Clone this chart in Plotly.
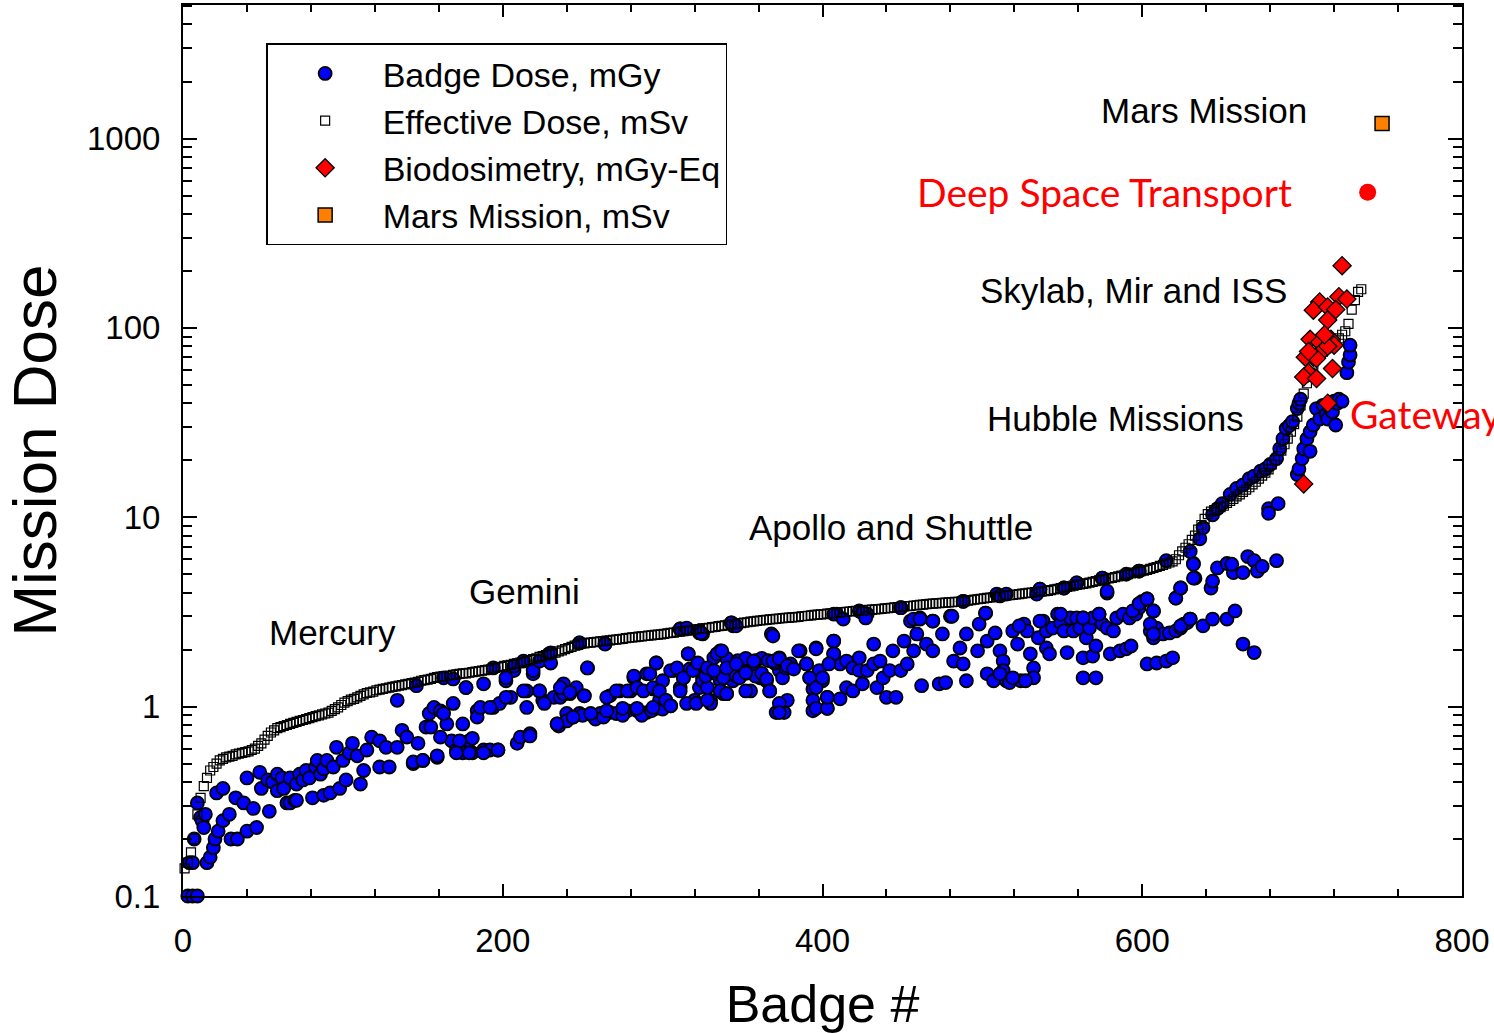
import plotly.graph_objects as go

# ---------------- data ----------------
# Effective dose (mSv), sorted, one value every second badge starting at badge 1
eff_dose = [
    0.14, 0.15, 0.17, 0.2, 0.27, 0.33, 0.38, 0.42, 0.46, 0.48,
    0.50, 0.52, 0.53, 0.54, 0.545, 0.55, 0.56, 0.565, 0.57, 0.575,
    0.58, 0.59, 0.60, 0.62, 0.64, 0.67, 0.70, 0.73, 0.75, 0.77,
    0.78, 0.79, 0.80, 0.81, 0.82, 0.83, 0.84, 0.85, 0.86, 0.87,
    0.88, 0.89, 0.90, 0.91, 0.92, 0.93, 0.95, 0.97, 0.99, 1.02,
    1.05, 1.07, 1.09, 1.10, 1.12, 1.14, 1.16, 1.18, 1.19, 1.20,
    1.22, 1.23, 1.24, 1.25, 1.26, 1.27, 1.28, 1.29, 1.30, 1.31,
    1.32, 1.33, 1.34, 1.35, 1.37, 1.38, 1.39, 1.40, 1.42, 1.43,
    1.44, 1.45, 1.45, 1.46, 1.47, 1.48, 1.49, 1.50, 1.50, 1.51,
    1.52, 1.53, 1.54, 1.55, 1.56, 1.57, 1.58, 1.60, 1.61, 1.62,
    1.64, 1.65, 1.66, 1.68, 1.69, 1.71, 1.72, 1.74, 1.76, 1.78,
    1.80, 1.83, 1.85, 1.87, 1.89, 1.91, 1.93, 1.96, 1.98, 2.01,
    2.04, 2.07, 2.10, 2.13, 2.15, 2.16, 2.17, 2.18, 2.19, 2.20,
    2.21, 2.22, 2.23, 2.24, 2.25, 2.26, 2.27, 2.28, 2.30, 2.31,
    2.32, 2.33, 2.34, 2.35, 2.36, 2.37, 2.38, 2.39, 2.40, 2.41,
    2.42, 2.44, 2.45, 2.46, 2.48, 2.49, 2.50, 2.52, 2.53, 2.54,
    2.56, 2.57, 2.59, 2.60, 2.61, 2.63, 2.64, 2.66, 2.67, 2.69,
    2.70, 2.72, 2.73, 2.75, 2.76, 2.78, 2.79, 2.81, 2.82, 2.84,
    2.85, 2.86, 2.87, 2.89, 2.90, 2.91, 2.92, 2.93, 2.94, 2.95,
    2.96, 2.97, 2.98, 3.00, 3.01, 3.02, 3.03, 3.05, 3.06, 3.07,
    3.08, 3.10, 3.11, 3.12, 3.13, 3.14, 3.16, 3.17, 3.18, 3.19,
    3.20, 3.21, 3.22, 3.23, 3.24, 3.25, 3.26, 3.27, 3.28, 3.30,
    3.31, 3.32, 3.34, 3.35, 3.36, 3.38, 3.39, 3.40, 3.42, 3.43,
    3.45, 3.46, 3.48, 3.49, 3.50, 3.51, 3.52, 3.53, 3.54, 3.55,
    3.56, 3.57, 3.58, 3.60, 3.61, 3.63, 3.65, 3.67, 3.69, 3.71,
    3.73, 3.75, 3.77, 3.79, 3.81, 3.82, 3.84, 3.86, 3.88, 3.89,
    3.91, 3.93, 3.95, 3.97, 3.99, 4.00, 4.02, 4.04, 4.05, 4.07,
    4.09, 4.12, 4.16, 4.19, 4.22, 4.26, 4.29, 4.32, 4.36, 4.39,
    4.42, 4.45, 4.48, 4.52, 4.56, 4.60, 4.64, 4.68, 4.71, 4.75,
    4.79, 4.83, 4.87, 4.92, 4.96, 5.01, 5.05, 5.10, 5.14, 5.19,
    5.22, 5.28, 5.34, 5.40, 5.46, 5.53, 5.61, 5.69, 5.77, 5.85,
    6.0, 6.3, 6.6, 6.9, 7.2, 7.6, 8.0, 8.6, 9.1, 9.8,
    10.4, 10.7, 10.9, 11.1, 11.3, 11.5, 11.9, 12.2, 12.5, 12.9,
    13.2, 13.6, 14.0, 14.4, 14.9, 15.4, 16.0, 16.6, 17.2, 17.9,
    19.0, 20.0, 21.0, 22.5, 24.3, 26.0, 28.3, 31.0, 34.0, 39.0,
    45.0, 51.0, 58.0, 64.0, 70.0, 73.0, 75.0, 78.0, 81.0, 84.0,
    86.0, 88.0, 92.0, 96.0, 105, 125, 140, 155, 160,
]
eff_badge = [1 + 2 * i for i in range(len(eff_dose))]

# Badge dose (mGy) – badge numbers and values
badge_x = [
    3, 6, 9, 4, 6, 7, 9, 11, 12, 13, 14, 15, 17, 19, 20, 21, 22, 25, 25, 29,
    30, 33, 34, 38, 40, 40, 44, 46, 48, 49,
    53, 54, 56, 59, 59, 62, 63, 65, 67, 67, 70, 71, 71, 73, 75, 77, 79, 81, 83, 84,
    86, 88, 88, 90, 92, 94, 96, 98, 100, 102, 104, 106, 109, 111, 113, 115, 118, 123, 123, 127,
    129,
    134, 134, 137, 140, 144, 146, 147, 150, 152, 154, 157, 159, 161, 163, 165, 169, 168, 171, 175, 175,
    177, 179, 181, 184, 188, 188, 192, 194, 197, 198, 202, 205, 207, 209, 211, 215, 215, 217, 219, 223,
    225, 229, 232, 234, 236, 238, 240, 242, 246, 248,
    163, 169, 177, 194, 202, 207, 213, 219, 223, 229, 230, 248, 155, 161, 173, 181, 184, 186, 192, 202,
    213, 226, 238, 242, 144, 150, 159, 171, 179, 188, 197, 217,
    251, 253, 264, 235, 240, 244, 250, 256, 261, 267, 271, 278, 284, 290, 296, 305, 267, 273, 280, 282,
    290, 296, 294, 300, 298, 302, 307, 311, 313, 316, 317, 320, 323, 325, 330, 330, 336, 336, 340, 342,
    344, 344, 311, 323, 343, 258, 263, 275, 287, 293, 300,
    325, 330, 332, 328, 325, 328, 338, 348, 350, 355, 357, 361, 365, 367, 368, 369, 373, 373, 371, 376,
    378, 375, 380, 386, 390, 392, 396, 394, 398, 400, 403, 403, 407, 407, 409, 335, 340, 347, 352, 358,
    362, 366, 370, 377, 327, 333, 338, 346, 352, 358, 362, 323,
    394, 411, 411, 415, 415, 419, 419, 423, 423, 425, 428, 428, 432, 432, 434, 436, 438, 440, 442, 444,
    446, 449, 451, 453, 455, 457, 459, 461, 462, 465, 469, 469, 473, 475, 477, 480, 482, 486, 488, 490,
    490, 497, 498, 502, 503, 503, 507, 508, 511, 513, 513, 515, 519, 522, 524, 526, 528, 530, 532, 532,
    534, 509, 488, 449, 423,
    535, 538, 540, 540, 542, 544, 547, 549, 551, 553, 555, 557, 559, 561, 563, 563, 565, 567, 569, 571,
    569, 573, 575, 578, 580, 582, 584, 586, 588, 590, 592, 593, 596, 598, 600, 603, 605, 607, 607, 609,
    603, 609, 613, 615, 617, 619, 621, 624, 626, 628, 630, 632, 633, 624, 621, 638, 644, 653, 658, 643,
    644, 647, 653, 657, 656, 663, 666, 670, 672, 675, 684, 663, 670, 563, 571, 517, 519, 511, 527, 536,
    551, 559, 575, 578, 598,
    636, 638, 644, 647, 650, 655, 659, 663, 667, 670, 674, 677, 680, 684, 686, 688, 690, 692, 694, 697,
    698, 699, 679, 685, 679, 697, 698, 700, 701, 703, 705, 705, 707, 709, 711, 713, 715, 716, 717, 719,
    720, 721, 722, 723, 725, 728, 729, 730, 730,
    407, 413, 425, 427, 449, 488, 511, 515, 536, 551, 559, 575, 590, 598, 615, 630, 578, 457, 461, 469,
    481, 502, 621, 624, 632, 632, 523, 536, 549, 563, 573, 594, 598, 603, 607, 605, 607, 624, 630, 230,
    248, 264, 311, 315, 324, 343, 346, 369, 253, 316, 334, 337, 385, 396, 407, 407, 282, 292, 296, 305,
    309, 313, 319, 322, 328, 332, 340, 346, 348, 352, 357, 365, 369, 373, 378, 382, 390, 392, 396, 400,
    404, 265, 271, 278, 284, 288, 294, 298, 302, 311, 315, 321, 328, 336, 340, 352, 367, 373, 373, 394,
    396, 403, 403, 234, 244, 255, 265, 275, 284, 294, 305, 223, 236, 242, 251,
]
badge_y = [
    0.1, 0.1, 0.1, 0.15, 0.15, 0.2, 0.31, 0.26, 0.25, 0.23, 0.27, 0.15, 0.16, 0.18, 0.2, 0.35, 0.22, 0.37, 0.25, 0.27,
    0.2, 0.33, 0.2, 0.31, 0.42, 0.22, 0.29, 0.23, 0.45, 0.37,
    0.41, 0.28, 0.40, 0.44, 0.36, 0.42, 0.37, 0.31, 0.42, 0.31, 0.32, 0.32, 0.39, 0.44, 0.41, 0.46, 0.42, 0.33, 0.48, 0.52,
    0.44, 0.47, 0.34, 0.52, 0.35, 0.48, 0.61, 0.37, 0.52, 0.41, 0.57, 0.64, 0.55, 0.39, 0.46, 0.59, 0.69, 0.48, 0.66, 0.61,
    0.48,
    1.08, 0.61, 0.75, 0.69, 0.50, 1.29, 0.64, 0.52, 0.78, 0.92, 0.99, 0.54, 0.95, 1.42, 0.81, 1.04, 0.66, 0.59, 0.81, 0.57,
    1.26, 0.66, 0.57, 0.95, 1.32, 0.59, 0.59, 0.99, 0.59, 1.04, 1.37, 1.12, 1.55, 0.64, 0.69, 0.99, 1.21, 0.72, 1.49, 1.21,
    1.08, 1.74, 1.12, 0.81, 1.12, 1.32, 0.92, 1.17, 1.26, 0.92,
    0.92, 1.40, 1.26, 1.60, 1.42, 1.64, 1.74, 1.55, 1.74, 1.90, 1.70, 2.17, 0.78, 0.69, 0.66, 0.68, 0.88, 0.99, 0.99, 1.12,
    1.21, 1.04, 1.17, 1.19, 0.51, 0.52, 0.55, 0.57, 0.57, 0.57, 0.59, 0.70,
    1.14, 1.60, 2.15, 0.79, 0.84, 0.88, 0.90, 0.90, 0.92, 0.93, 0.92, 0.95, 0.95, 0.93, 0.98, 1.01, 1.14, 1.21, 1.21, 1.42,
    1.49, 1.70, 1.24, 1.37, 1.08, 1.08, 1.55, 1.26, 1.42, 1.90, 1.58, 1.08, 1.26, 1.42, 1.60, 1.08, 1.97, 1.37, 1.17, 1.60,
    1.37, 2.67, 2.57, 2.45, 2.77, 0.86, 0.88, 0.90, 0.90, 0.95, 0.97,
    2.42, 1.04, 1.81, 1.55, 1.37, 1.26, 1.17, 1.68, 1.49, 1.21, 1.68, 1.42, 1.37, 1.21, 2.42, 1.74, 1.81, 1.55, 0.93, 0.93,
    1.08, 1.42, 1.68, 1.97, 1.68, 1.42, 2.04, 1.24, 1.55, 1.37, 0.98, 1.12, 2.22, 1.90, 3.08, 1.90, 1.80, 1.75, 1.80, 1.75,
    1.80, 1.75, 1.70, 1.60, 1.45, 1.50, 1.42, 1.45, 1.50, 1.45, 1.50, 2.51,
    0.95, 1.68, 1.10, 1.74, 1.26, 1.21, 1.60, 1.55, 1.81, 1.32, 3.08, 1.55, 1.68, 2.14, 1.26, 1.74, 1.42, 1.12, 1.55, 1.97,
    1.12, 1.55, 2.22, 1.68, 2.83, 1.97, 2.42, 2.94, 1.29, 2.14, 2.83, 1.97, 1.32, 2.42, 1.34, 3.00, 1.74, 2.04, 1.68, 2.42,
    1.37, 1.97, 2.73, 3.12, 2.22, 1.49, 1.37, 2.45, 1.97, 1.74, 1.55, 1.37, 2.51, 2.14, 1.37, 2.73, 2.51, 1.90, 1.60, 1.42,
    3.93, 3.93, 3.60, 3.33, 3.20,
    2.31, 2.83, 2.51, 2.04, 1.90, 2.60, 3.08, 2.77, 2.51, 1.93, 2.94, 2.51, 2.94, 2.60, 1.81, 2.94, 2.31, 2.60, 1.85, 2.09,
    2.94, 3.08, 2.73, 2.60, 1.90, 2.51, 2.94, 1.97, 3.08, 2.02, 2.94, 2.09, 3.08, 3.33, 3.60, 3.70, 2.51, 2.31, 3.20, 2.60,
    1.68, 1.70, 2.42, 1.74, 2.45, 1.81, 2.51, 2.60, 2.73, 2.77, 2.90, 5.70, 4.77, 4.23, 3.74, 2.67, 2.90, 2.90, 3.20, 4.23,
    4.60, 5.40, 5.70, 5.10, 5.65, 5.10, 6.20, 5.90, 5.20, 5.50, 5.90, 2.14, 1.93, 1.42, 1.42, 1.34, 1.42, 1.49, 1.37, 4.17,
    4.23, 4.50, 4.77, 3.98, 5.20,
    7.7, 8.8, 10.3, 11.1, 11.8, 13.2, 14.2, 14.8, 16.0, 16.5, 17.5, 18.0, 19.0, 20.4, 23.0, 26.0, 29.4, 30.5, 32.0, 37.5,
    40.0, 42.0, 11.1, 11.8, 10.5, 16.8, 18.0, 20.4, 23.0, 26.0, 22.3, 28.3, 30.7, 37.5, 33.0, 39.0, 35.0, 33.0, 38.0, 36.0,
    41.0, 30.7, 40.0, 42.0, 41.0, 58.0, 66.0, 72.0, 81.0,
    3.08, 2.90, 3.12, 2.94, 3.33, 3.60, 3.84, 3.93, 4.17, 4.23, 4.50, 4.77, 5.00, 5.20, 5.90, 6.60, 4.07, 2.90, 2.90, 2.83,
    3.00, 3.12, 3.74, 4.23, 5.65, 4.77, 2.67, 2.83, 3.08, 2.94, 3.08, 3.20, 3.50, 3.70, 3.20, 2.73, 2.42, 2.67, 2.90, 1.92,
    2.17, 2.14, 2.57, 2.60, 2.45, 2.77, 2.67, 2.36, 1.60, 1.90, 1.90, 1.97, 1.97, 2.02, 2.22, 1.90, 1.45, 1.49, 1.70, 1.55,
    1.60, 1.42, 1.55, 1.70, 1.60, 1.55, 1.60, 1.68, 1.42, 1.51, 1.74, 1.40, 1.74, 1.79, 1.64, 1.58, 1.68, 1.42, 1.26, 1.42,
    1.68, 1.12, 1.21, 1.21, 1.26, 1.21, 1.26, 1.21, 1.08, 1.21, 1.04, 1.04, 1.08, 1.21, 1.17, 1.21, 1.21, 1.04, 0.93, 1.08,
    0.98, 0.98, 1.12, 0.81, 0.88, 0.92, 0.95, 0.98, 0.98, 0.99, 1.01, 1.21, 1.26, 1.19, 1.14,
]

# Biodosimetry (mGy-Eq)
bio_x = [725, 711, 707, 716, 723, 728, 716, 705, 711, 718,
         720, 713, 707, 702, 709, 704, 701, 709, 719, 716,
         701, 721, 704, 716, 714]
bio_y = [213, 137, 124, 129, 146, 142, 110, 87, 84, 87,
         81, 76, 70, 70, 69, 58, 55, 54, 61, 40,
         15, 125, 75, 80, 92]

# Mars mission (mSv) and Deep Space Transport estimate
mars_x = [750]
mars_y = [1200]
dst_x = [741]
dst_y = [520]

# ---------------- figure ----------------
FONT = "Liberation Sans, Arial, sans-serif"
RED_FONT = "Lato, Noto Sans, sans-serif"

fig = go.Figure()

fig.add_trace(go.Scatter(
    x=badge_x, y=badge_y, mode="markers", name="Badge Dose, mGy",
    marker=dict(symbol="circle", size=13, color="#0000ff",
                line=dict(color="black", width=1.8)),
    cliponaxis=False,
))
fig.add_trace(go.Scatter(
    x=eff_badge, y=eff_dose, mode="markers", name="Effective Dose, mSv",
    marker=dict(symbol="square-open", size=9, color="black",
                line=dict(color="black", width=1.2)),
    cliponaxis=False,
))
fig.add_trace(go.Scatter(
    x=bio_x, y=bio_y, mode="markers", name="Biodosimetry, mGy-Eq",
    marker=dict(symbol="diamond", size=14, color="#ff0000",
                line=dict(color="black", width=1.3)),
    cliponaxis=False,
))
fig.add_trace(go.Scatter(
    x=mars_x, y=mars_y, mode="markers", name="Mars Mission, mSv",
    marker=dict(symbol="square", size=14, color="#ff8000",
                line=dict(color="black", width=1.5)),
    cliponaxis=False,
))
fig.add_trace(go.Scatter(
    x=dst_x, y=dst_y, mode="markers", showlegend=False,
    marker=dict(symbol="circle", size=17, color="#ff0000", line=dict(width=0)),
    cliponaxis=False,
))

minor_y = [k * 10.0 ** e for e in range(-1, 4) for k in range(2, 10)]

fig.update_layout(
    width=1494, height=1033,
    margin=dict(l=183, r=32, t=3, b=137),
    paper_bgcolor="white", plot_bgcolor="white",
    font=dict(family=FONT, size=33, color="black"),
    showlegend=True,
    legend=dict(
        x=0.065, y=0.957, xanchor="left", yanchor="top",
        bgcolor="white", bordercolor="black", borderwidth=1.5,
        font=dict(family=FONT, size=34, color="black"),
        itemwidth=105, tracegroupgap=0,
    ),
    xaxis=dict(
        range=[0, 800], dtick=200, tick0=0,
        showline=True, linecolor="black", linewidth=2, mirror="ticks",
        ticks="inside", ticklen=12, tickwidth=2, tickcolor="black",
        minor=dict(dtick=40, ticks="inside", ticklen=7, tickwidth=1.5, tickcolor="black"),
        showgrid=False, zeroline=False,
        tickfont=dict(family=FONT, size=33),
        ticklabelstandoff=14,
        title=dict(text="Badge #", font=dict(family=FONT, size=52), standoff=30),
    ),
    yaxis=dict(
        type="log", range=[-1, 3.705],
        tickmode="array", tickvals=[0.1, 1, 10, 100, 1000],
        ticktext=["0.1", "1", "10", "100", "1000"],
        showline=True, linecolor="black", linewidth=2, mirror="ticks",
        ticks="inside", ticklen=14, tickwidth=2, tickcolor="black",
        minor=dict(tickmode="array", tickvals=minor_y, ticks="inside",
                   ticklen=9, tickwidth=1.5, tickcolor="black"),
        showgrid=False, zeroline=False,
        tickfont=dict(family=FONT, size=33),
        ticklabelstandoff=14,
        title=dict(text="Mission Dose", font=dict(family=FONT, size=62), standoff=28),
    ),
)

ann_black = dict(showarrow=False, xanchor="left", yanchor="middle",
                 font=dict(family=FONT, size=35, color="black"))
ann_red = dict(showarrow=False, xanchor="left", yanchor="middle",
               font=dict(family=RED_FONT, size=39, color="#ff0000"))

labels = [
    ("Mercury", 52.5, 0.389, ann_black),
    ("Gemini", 177.6, 0.61, ann_black),
    ("Apollo and Shuttle", 352.8, 0.947, ann_black),
    ("Hubble Missions", 501.6, 1.52, ann_black),
    ("Skylab, Mir and ISS", 497.0, 2.195, ann_black),
    ("Mars Mission", 572.8, 3.147, ann_black),
    ("Deep Space Transport", 457.6, 2.72, ann_red),
    ("Gateway", 729.0, 1.547, ann_red),
]
for text, ax_, ay_, style in labels:
    fig.add_annotation(text=text, x=ax_, y=ay_, xref="x", yref="y", **style)

fig.write_html("out.html")
